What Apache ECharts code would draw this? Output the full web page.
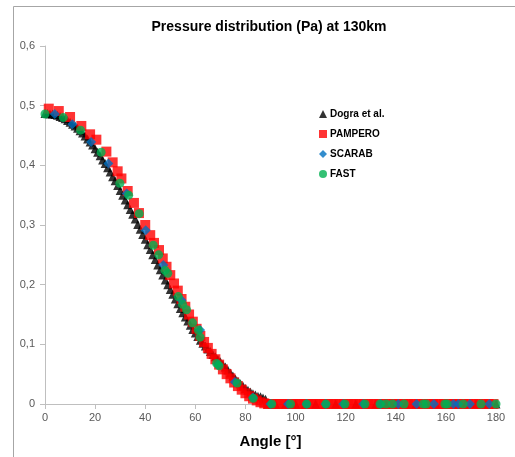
<!DOCTYPE html>
<html>
<head>
<meta charset="utf-8">
<script src="https://cdn.jsdelivr.net/npm/echarts@6/dist/echarts.min.js"></script>
<style>html,body{margin:0;padding:0;background:#fff;}#c{width:515px;height:457px;}</style>
</head>
<body>
<div id="c"></div>
<script>
// Dogra et al. (angle, pressure)
const dograAngle = [0,1,2,3,4,5,6,7,8,9,10,11,12,13,14,15,16,17,18,19,20,21,22,23,24,25,26,27,28,29,30,31,32,33,34,35,36,37,38,39,40,41,42,43,44,45,46,47,48,49,50,51,52,53,54,55,56,57,58,59,60,61,62,63,64,65,66,67,68,69,70,71,72,73,74,75,76,77,78,79,80,81,82,83,84,85,86,87,88,89,92,96,100,104,108,112,116,120,124,128,132,136,140,144,148,152,156,160,164,168,172,176,180];
const dograP = [0.487,0.487,0.486,0.486,0.485,0.484,0.482,0.480,0.478,0.475,0.472,0.469,0.466,0.462,0.458,0.454,0.449,0.444,0.439,0.434,0.428,0.422,0.416,0.409,0.403,0.396,0.389,0.381,0.374,0.366,0.358,0.350,0.342,0.334,0.326,0.318,0.310,0.301,0.293,0.284,0.276,0.267,0.259,0.250,0.242,0.233,0.225,0.216,0.208,0.200,0.192,0.184,0.176,0.168,0.160,0.153,0.146,0.139,0.132,0.125,0.119,0.113,0.107,0.102,0.097,0.092,0.088,0.083,0.079,0.075,0.071,0.066,0.062,0.057,0.052,0.047,0.042,0.038,0.034,0.030,0.026,0.023,0.020,0.017,0.015,0.013,0.012,0.010,0.008,0.000,0,0,0,0,0,0,0,0,0,0,0,0,0,0,0,0,0,0,0,0,0,0,0];

// PAMPERO
const pamperoAngle = [1.5,5.5,10,14.5,18,20.5,24.5,27,29,30.5,33,35.5,37.5,40,42,43.5,45.5,47,48.5,50,51.5,53,54.5,56,57.5,59,60.5,62,63.5,65,66.5,68,69.5,71,72.5,74,75.5,77,78.5,80,81.5,83,84.5,86,87.5,89,91,93,95,97,99,101,103,105,107,109,111,113,115,117,119,121,123,125,127,129,131,133,135,137,139,141,143,145,147,149,151,153,155,157,159,161,163,165,167,169,171,173,175,177,179];
const pamperoP = [0.495,0.491,0.481,0.466,0.452,0.443,0.423,0.405,0.390,0.378,0.357,0.337,0.320,0.300,0.283,0.270,0.258,0.244,0.230,0.216,0.202,0.190,0.176,0.163,0.150,0.138,0.126,0.114,0.104,0.094,0.084,0.075,0.066,0.058,0.050,0.043,0.036,0.030,0.024,0.018,0.013,0.009,0.006,0.003,0.001,0,0,0,0,0,0,0,0,0,0,0,0,0,0,0,0,0,0,0,0,0,0,0,0,0,0,0,0,0,0,0,0,0,0,0,0,0,0,0,0,0,0,0,0,0,0];

// SCARAB
const scarabAngle = [3.9,10.9,18.4,25.3,32.6,40.2,47.2,54.5,61.9,69,75.8,83,90,97,104.4,112,119,127,134,141,148.3,155.2,163,165,169.6,177.3];
const scarabP = [0.486,0.469,0.439,0.403,0.353,0.291,0.233,0.174,0.124,0.066,0.037,0.011,0,0,0,0,0,0,0,0,0,0,0,0,0,0];

// FAST
const fastAngle = [0,7.3,14.2,22.4,29.9,33.4,37.6,43.2,45.4,47.9,49,53.2,54.9,56.5,58.9,61.2,61.9,68.5,69.5,76.7,83.1,90.5,98,104.4,112.1,119.7,127.7,133.7,136.1,138.7,143.3,151,152.1,159.6,160.5,166.9,174,180];
const fastP = [0.486,0.480,0.459,0.422,0.370,0.350,0.319,0.266,0.250,0.224,0.219,0.180,0.167,0.158,0.136,0.124,0.112,0.068,0.064,0.035,0.0095,0,0,0,0,0,0,0,0,0,0,0,0,0,0,0,0,0];

const xTicks = [0,20,40,60,80,100,120,140,160,180];

function pairs(a, b) { return a.map((v, i) => [v, b[i]]); }

const chart = echarts.init(document.getElementById('c'), null, {renderer: 'canvas'});
const font = 'Liberation Sans, Arial, sans-serif';
chart.setOption({
  animation: false,
  backgroundColor: '#ffffff',
  title: {
    text: 'Pressure distribution (Pa) at 130km',
    left: 264, top: 15, textAlign: 'center',
    textStyle: {fontFamily: font, fontSize: 14, fontWeight: 'bold', color: '#000'}
  },
  graphic: [
    {type: 'line', shape: {x1: 13.5, y1: 6.5, x2: 515, y2: 6.5}, style: {stroke: '#a6a6a6', lineWidth: 1}},
    {type: 'line', shape: {x1: 13.5, y1: 6.5, x2: 13.5, y2: 457}, style: {stroke: '#a6a6a6', lineWidth: 1}}
  ],
  legend: {
    orient: 'vertical', left: 314, top: 104, itemGap: 10, itemWidth: 8, itemHeight: 8,
    textStyle: {fontFamily: font, fontSize: 10, fontWeight: 'bold', color: '#000', padding: [0,0,0,-2]},
    data: [
      {name: 'Dogra et al.', icon: 'triangle'},
      {name: 'PAMPERO', icon: 'rect'},
      {name: 'SCARAB', icon: 'diamond'},
      {name: 'FAST', icon: 'circle'}
    ]
  },
  grid: {left: 45, right: 19, top: 46, bottom: 53, containLabel: false},
  xAxis: {
    type: 'value', min: 0, max: 180, interval: 20,
    name: 'Angle [°]', nameLocation: 'middle', nameGap: 30,
    nameTextStyle: {fontFamily: font, fontSize: 15, fontWeight: 'bold', color: '#000'},
    axisLine: {show: true, lineStyle: {color: '#bfbfbf'}},
    axisTick: {show: true, length: 5, lineStyle: {color: '#bfbfbf'}},
    axisLabel: {fontFamily: font, fontSize: 11, color: '#595959', margin: 8,
      formatter: v => xTicks.includes(v) ? String(v) : ''},
    splitLine: {show: false}
  },
  yAxis: {
    type: 'value', min: 0, max: 0.6, interval: 0.1,
    axisLine: {show: true, lineStyle: {color: '#bfbfbf'}},
    axisTick: {show: true, length: 5, lineStyle: {color: '#bfbfbf'}},
    axisLabel: {fontFamily: font, fontSize: 11, color: '#595959', margin: 10,
      formatter: v => v === 0 ? '0' : v.toFixed(1).replace('.', ',')},
    splitLine: {show: false}
  },
  series: [
    {name: 'Dogra et al.', type: 'scatter', symbol: 'triangle', symbolSize: 9,
     itemStyle: {color: '#000000'}, data: pairs(dograAngle, dograP)},
    {name: 'PAMPERO', type: 'scatter', symbol: 'rect', symbolSize: 10,
     itemStyle: {color: '#ff0000'}, data: pairs(pamperoAngle, pamperoP)},
    {name: 'SCARAB', type: 'scatter', symbol: 'diamond', symbolSize: 10,
     itemStyle: {color: '#0070c0'}, data: pairs(scarabAngle, scarabP)},
    {name: 'FAST', type: 'scatter', symbol: 'circle', symbolSize: 9,
     itemStyle: {color: '#00b050'}, data: pairs(fastAngle, fastP)}
  ]
});
</script>
</body>
</html>
